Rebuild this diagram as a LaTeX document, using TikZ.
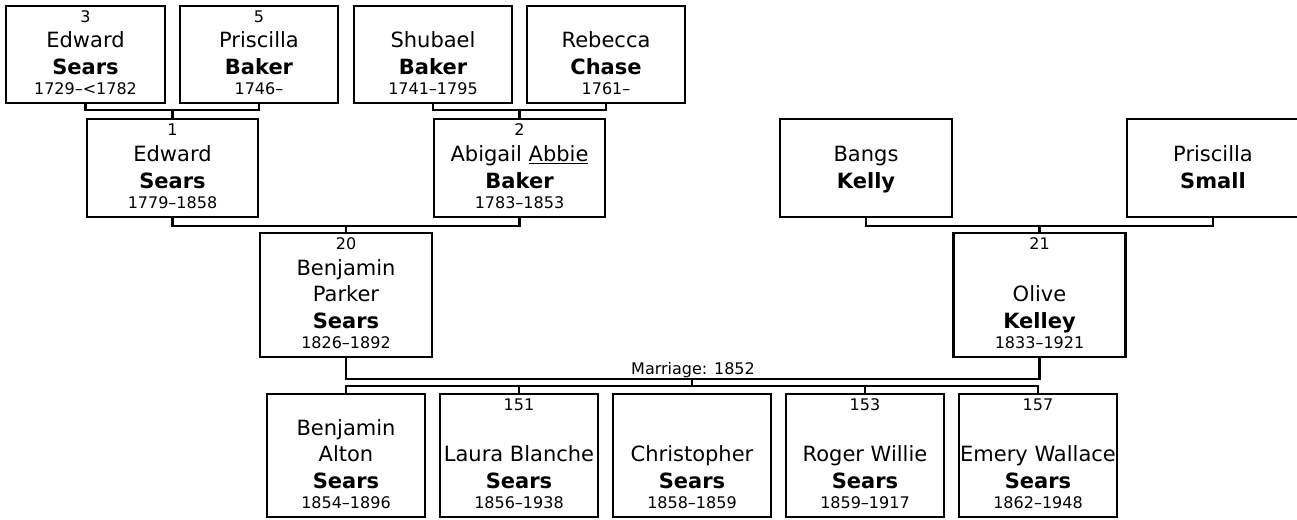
\documentclass[tikz,border=0pt]{standalone}
\usepackage{fontspec}
\setmainfont{DejaVu Sans}
\begin{document}
\begin{tikzpicture}[x=1pt,y=1pt,
    box/.style={draw,line width=2.1pt,inner sep=0pt},
    link/.style={line width=2.1pt},
    num/.style={font=\fontsize{16}{16}\selectfont,anchor=base,inner sep=0pt},
    gvn/.style={font=\fontsize{21}{21}\selectfont,anchor=base,inner sep=0pt},
    snm/.style={font=\fontsize{21}{21}\selectfont\bfseries,anchor=base,inner sep=0pt},
    yrs/.style={font=\fontsize{16}{16}\selectfont,anchor=base,inner sep=0pt}]
\useasboundingbox (0,0) rectangle (1297,519);
% great-grandparents
\node[box,minimum width=159,minimum height=97](e3) at (85.5,464.5){};
\node[num](e3n) at ([yshift=-18]e3.north){3};
\node[gvn](e3g) at ([yshift=57]e3.south){Edward};
\node[snm](e3s) at ([yshift=30]e3.south){Sears};
\node[yrs](e3d) at ([yshift=10]e3.south){1729–<1782};
\node[box,minimum width=158,minimum height=97](p5) at (259,464.5){};
\node[num](p5n) at ([yshift=-18]p5.north){5};
\node[gvn](p5g) at ([yshift=57]p5.south){Priscilla};
\node[snm](p5s) at ([yshift=30]p5.south){Baker};
\node[yrs](p5d) at ([yshift=10]p5.south){1746–};
\node[box,minimum width=158,minimum height=97](sb) at (433,464.5){};
\node[gvn](sbg) at ([yshift=57]sb.south){Shubael};
\node[snm](sbs) at ([yshift=30]sb.south){Baker};
\node[yrs](sbd) at ([yshift=10]sb.south){1741–1795};
\node[box,minimum width=158,minimum height=97](rc) at (606,464.5){};
\node[gvn](rcg) at ([yshift=57]rc.south){Rebecca};
\node[snm](rcs) at ([yshift=30]rc.south){Chase};
\node[yrs](rcd) at ([yshift=10]rc.south){1761–};
% grandparents
\node[box,minimum width=171,minimum height=98](e1) at (172.5,351){};
\node[num](e1n) at ([yshift=-18]e1.north){1};
\node[gvn](e1g) at ([yshift=57]e1.south){Edward};
\node[snm](e1s) at ([yshift=30]e1.south){Sears};
\node[yrs](e1d) at ([yshift=10]e1.south){1779–1858};
\node[box,minimum width=171,minimum height=98](a2) at (519.5,351){};
\node[num](a2n) at ([yshift=-18]a2.north){2};
\node[gvn](a2g) at ([yshift=57]a2.south){Abigail \underline{Abbie}};
\node[snm](a2s) at ([yshift=30]a2.south){Baker};
\node[yrs](a2d) at ([yshift=10]a2.south){1783–1853};
\node[box,minimum width=172,minimum height=98](bk) at (866,351){};
\node[gvn](bkg) at ([yshift=57]bk.south){Bangs};
\node[snm](bks) at ([yshift=30]bk.south){Kelly};
\node[box,minimum width=172,minimum height=98](ps) at (1213,351){};
\node[gvn](psg) at ([yshift=57]ps.south){Priscilla};
\node[snm](pss) at ([yshift=30]ps.south){Small};
% parents
\node[box,minimum width=172,minimum height=124](b20) at (346,224){};
\node[num](b20n) at ([yshift=-18]b20.north){20};
\node[gvn](b20a) at ([yshift=83]b20.south){Benjamin};
\node[gvn](b20g) at ([yshift=57]b20.south){Parker};
\node[snm](b20s) at ([yshift=30]b20.south){Sears};
\node[yrs](b20d) at ([yshift=10]b20.south){1826–1892};
\node[box,minimum width=172,minimum height=124](o21) at (1039.5,224){};
\node[num](o21n) at ([yshift=-18]o21.north){21};
\node[gvn](o21g) at ([yshift=57]o21.south){Olive};
\node[snm](o21s) at ([yshift=30]o21.south){Kelley};
\node[yrs](o21d) at ([yshift=10]o21.south){1833–1921};
% children
\foreach \i/\x/\num/\ga/\gb/\yr in {1/346//Benjamin/Alton/1854–1896,
    2/519/151//Laura Blanche/1856–1938, 3/692///Christopher/1858–1859,
    4/865/153//Roger Willie/1859–1917, 5/1038/157//Emery Wallace/1862–1948}{
  \node[box,minimum width=158,minimum height=123](c\i) at (\x,63.5){};
  \node[num](c\i n) at ([yshift=-18]c\i.north){\num};
  \node[gvn](c\i a) at ([yshift=83]c\i.south){\ga};
  \node[gvn](c\i g) at ([yshift=57]c\i.south){\gb};
  \node[snm](c\i s) at ([yshift=30]c\i.south){Sears};
  \node[yrs](c\i d) at ([yshift=10]c\i.south){\yr};
}
% links
\coordinate (j1) at (172.5,409);
\coordinate (j2) at (519.5,409);
\coordinate (j3) at (346,293);
\coordinate (j4) at (1039.5,293);
\coordinate (mar) at (692,140);
\coordinate (kid) at (692,133);
\draw[link](e3.south) |- (j1) -| (p5.south);
\draw[link](j1) -- (e1.north);
\draw[link](sb.south) |- (j2) -| (rc.south);
\draw[link](j2) -- (a2.north);
\draw[link](e1.south) |- (j3) -| (a2.south);
\draw[link](j3) -- (b20.north);
\draw[link](bk.south) |- (j4) -| (ps.south);
\draw[link](j4) -- (o21.north);
\draw[link](b20.south) |- (mar) -| (o21.south);
\draw[link](mar) -- (kid);
\draw[link](c1.north) |- (kid) -| (c5.north);
\draw[link](c2.north) -- (c2.north |- kid);
\draw[link](c4.north) -- (c4.north |- kid);
\node[yrs](mlab) at (693,144){Marriage: 1852};
\end{tikzpicture}
\end{document}
